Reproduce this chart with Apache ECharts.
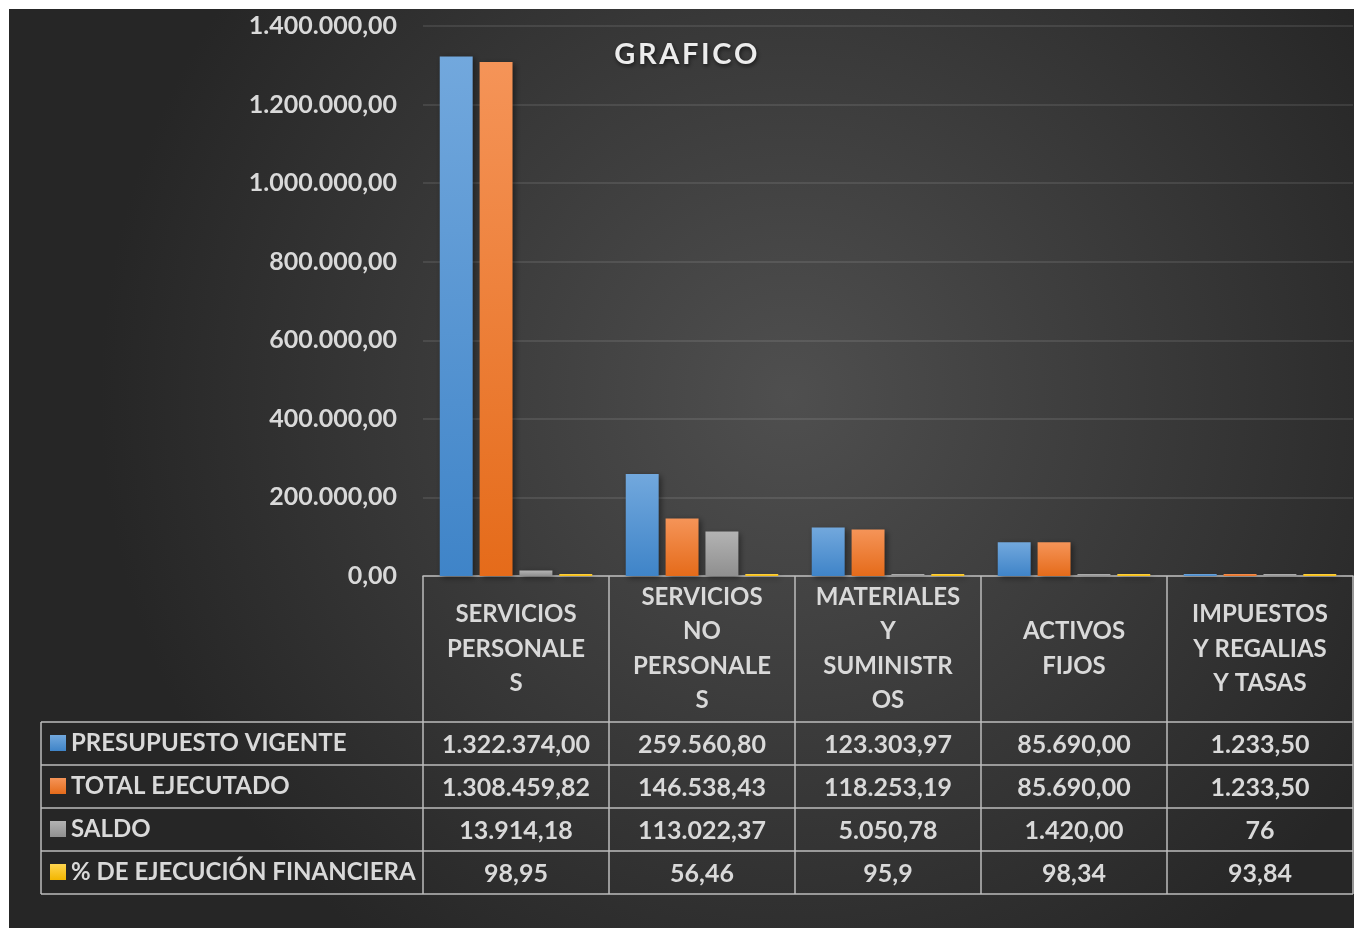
<!DOCTYPE html>
<html>
<head>
<meta charset="utf-8">
<script src="https://cdn.jsdelivr.net/npm/echarts@6/dist/echarts.min.js"></script>
<style>
html,body{margin:0;padding:0;background:#ffffff;}
#chart{width:1354px;height:928px;}
</style>
</head>
<body>
<div id="chart"></div>
<script>
// ---- data ----
const categories = ['SERVICIOS PERSONALES', 'SERVICIOS NO PERSONALES', 'MATERIALES Y SUMINISTROS', 'ACTIVOS FIJOS', 'IMPUESTOS Y REGALIAS Y TASAS'];
const categoryLabels = ['SERVICIOS\nPERSONALE\nS', 'SERVICIOS\nNO\nPERSONALE\nS', 'MATERIALES\nY\nSUMINISTR\nOS', 'ACTIVOS\nFIJOS', 'IMPUESTOS\nY REGALIAS\nY TASAS'];
const seriesNames = ['PRESUPUESTO VIGENTE', 'TOTAL EJECUTADO', 'SALDO', '% DE EJECUCIÓN FINANCIERA'];
const presupuestoVigente = [1322374.00, 259560.80, 123303.97, 85690.00, 1233.50];
const totalEjecutado = [1308459.82, 146538.43, 118253.19, 85690.00, 1233.50];
const saldo = [13914.18, 113022.37, 5050.78, 1420.00, 76];
const ejecucionFinanciera = [98.95, 56.46, 95.9, 98.34, 93.84];
// decimals shown in the data table for each cell
const decPresupuesto = [2, 2, 2, 2, 2];
const decEjecutado = [2, 2, 2, 2, 2];
const decSaldo = [2, 2, 2, 2, 0];
const decEjecucion = [2, 2, 1, 2, 2];
const yTicks = { min: 0, max: 1400000, interval: 200000 };
const titleText = 'GRAFICO';

function fmt(v, d) {
  const neg = v < 0;
  const s = Math.abs(v).toFixed(d);
  const parts = s.split('.');
  const intPart = parts[0].replace(/\B(?=(\d{3})+(?!\d))/g, '.');
  return (neg ? '-' : '') + intPart + (d > 0 ? ',' + parts[1] : '');
}

const seriesValues = [presupuestoVigente, totalEjecutado, saldo, ejecucionFinanciera];
const seriesDecimals = [decPresupuesto, decEjecutado, decSaldo, decEjecucion];

// ---- layout ----
const W = 1354, H = 928;
const gridLeft = 423, gridRightEdge = 1353, gridTop = 26, axisY = 576;
const headerH = 146, rowH = 43, tableLeft = 41;
const catW = (gridRightEdge - gridLeft) / categories.length;
const textColor = '#d9d9d9';
const lineColor = '#bcbcbc';
const FONT = 'Lato';

function grad(top, bottom) {
  return new echarts.graphic.LinearGradient(0, 0, 0, 1, [
    { offset: 0, color: top }, { offset: 1, color: bottom }
  ]);
}
const colors = [
  grad('#72a8dd', '#3f84c8'),
  grad('#f59458', '#e56b1a'),
  grad('#b3b3b3', '#8f8f8f'),
  grad('#ffd54f', '#f2b600')
];

const chart = echarts.init(document.getElementById('chart'), null, { renderer: 'canvas' });

const xAxes = [{
  type: 'category',
  data: categoryLabels,
  gridIndex: 0,
  position: 'bottom',
  axisLine: { show: true, lineStyle: { color: lineColor, width: 1.5 } },
  axisTick: { show: false },
  axisLabel: {
    interval: 0, margin: headerH / 2, verticalAlign: 'middle',
    color: textColor, fontFamily: FONT, fontWeight: 'bold', fontSize: 24, lineHeight: 34.5, align: 'center'
  },
  splitLine: { show: false }
}];
seriesValues.forEach((vals, i) => {
  xAxes.push({
    type: 'category',
    data: vals.map((v, j) => fmt(v, seriesDecimals[i][j])),
    gridIndex: 0,
    position: 'bottom',
    axisLine: { show: false },
    axisTick: { show: false },
    axisLabel: {
      interval: 0, margin: headerH + rowH * i + rowH / 2 + 1, verticalAlign: 'middle',
      color: textColor, fontFamily: FONT, fontWeight: 'bold', fontSize: 25
    },
    splitLine: { show: false }
  });
});

const graphics = [{
  type: 'rect', z: -100, silent: true,
  shape: { x: 9, y: 9, width: W - 9, height: H - 9 },
  style: {
    fill: new echarts.graphic.RadialGradient(0.58, 0.42, 0.75, [
      { offset: 0, color: '#4f4f4f' }, { offset: 1, color: '#262626' }
    ])
  }
}];
// table lines
const tableBottom = axisY + headerH + rowH * seriesNames.length;
for (let k = 0; k <= categories.length; k++) {
  const x = gridLeft + catW * k;
  graphics.push({ type: 'line', z: 50, silent: true, shape: { x1: x, y1: axisY, x2: x, y2: tableBottom }, style: { stroke: lineColor, lineWidth: 1.5 } });
}
graphics.push({ type: 'line', z: 50, silent: true, shape: { x1: tableLeft, y1: axisY + headerH, x2: tableLeft, y2: tableBottom }, style: { stroke: lineColor, lineWidth: 1.5 } });
for (let r = 0; r <= seriesNames.length; r++) {
  const y = axisY + headerH + rowH * r;
  graphics.push({ type: 'line', z: 50, silent: true, shape: { x1: tableLeft, y1: y, x2: gridRightEdge, y2: y }, style: { stroke: lineColor, lineWidth: 1.5 } });
}

const titleRich = {
  color: '#ececec', fontFamily: FONT, fontWeight: 'bold', fontSize: 29,
  padding: [0, 1.3, 0, 1.3],
  textShadowColor: 'rgba(0,0,0,0.6)', textShadowBlur: 4, textShadowOffsetX: 1, textShadowOffsetY: 2
};

const option = {
  backgroundColor: '#ffffff',
  animation: false,
  title: {
    text: titleText.split('').map(c => '{s|' + c + '}').join(''),
    left: 608, top: 35,
    textStyle: {
      color: '#ececec', fontFamily: FONT, fontWeight: 'bold', fontSize: 29,
      rich: { s: titleRich }
    }
  },
  legend: {
    data: seriesNames,
    orient: 'vertical',
    left: 50, top: axisY + headerH + 8,
    itemWidth: 16, itemHeight: 16, itemGap: 17,
    icon: 'rect', padding: 0, selectedMode: false,
    textStyle: { color: textColor, fontFamily: FONT, fontWeight: 'bold', fontSize: 24, lineHeight: 26 }
  },
  grid: { left: gridLeft, right: W - gridRightEdge, top: gridTop, bottom: H - axisY, containLabel: false },
  xAxis: xAxes,
  yAxis: {
    type: 'value', min: yTicks.min, max: yTicks.max, interval: yTicks.interval,
    axisLine: { show: false }, axisTick: { show: false },
    axisLabel: {
      margin: 26, color: textColor, fontFamily: FONT, fontWeight: 'bold', fontSize: 25,
      formatter: v => fmt(v, 2)
    },
    splitLine: { lineStyle: { color: 'rgba(255,255,255,0.13)', width: 1.5 } }
  },
  series: seriesValues.map((vals, i) => ({
    name: seriesNames[i],
    type: 'bar',
    xAxisIndex: 0,
    data: vals,
    barGap: '21%',
    barCategoryGap: '18%',
    barMinHeight: 2,
    itemStyle: {
      color: colors[i],
      shadowColor: 'rgba(0,0,0,0.45)', shadowBlur: 6, shadowOffsetX: 2, shadowOffsetY: 2
    }
  })),
  graphic: graphics
};
chart.setOption(option);
</script>
</body>
</html>
